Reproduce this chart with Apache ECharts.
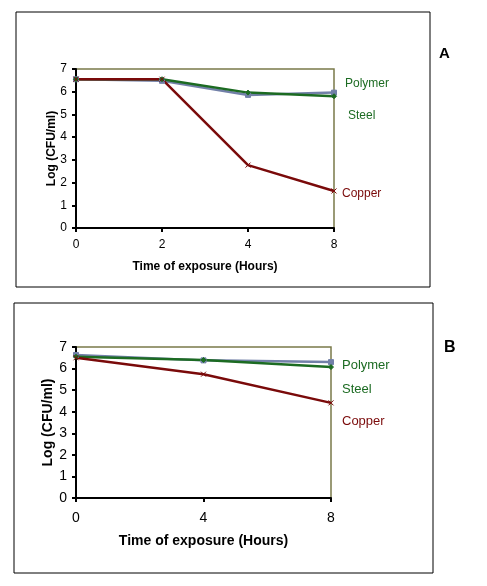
<!DOCTYPE html>
<html>
<head>
<meta charset="utf-8">
<script src="https://cdn.jsdelivr.net/npm/echarts@6/dist/echarts.min.js"></script>
<style>
html,body{margin:0;padding:0;background:#fff;}
#c{width:487px;height:586px;}
</style>
</head>
<body>
<div id="c"></div>
<script>
// Panel A
const hoursA = ['0', '2', '4', '8'];
const polymerA = [6.55, 6.48, 5.86, 5.96];
const steelA = [6.55, 6.55, 5.96, 5.8];
const copperA = [6.55, 6.55, 2.77, 1.63];
// Panel B
const hoursB = ['0', '4', '8'];
const polymerB = [6.63, 6.38, 6.3];
const steelB = [6.55, 6.4, 6.07];
const copperB = [6.5, 5.74, 4.41];
const yTicks = [0, 7, 1]; // min, max, interval

const cPoly = '#7280a8', cSteel = '#1c6b22', cCopper = '#7a0a0a';
const frame = '#7a7a4a';
const font = 'Liberation Sans, Arial, sans-serif';
const xPath = 'path://M0,0L10,10M10,0L0,10';

function mkX(idx, cats, fs, margin, gap) {
  return {
    gridIndex: idx, type: 'category', data: cats, boundaryGap: false,
    axisLine: {show: true, onZero: false, lineStyle: {color: '#000', width: 2}},
    axisTick: {show: true, alignWithLabel: true, length: 4, lineStyle: {color: '#000', width: 2}},
    axisLabel: {color: '#000', fontSize: fs, fontFamily: font, margin: margin},
    splitLine: {show: false},
    name: 'Time of exposure (Hours)', nameLocation: 'middle', nameGap: gap, nameMoveOverlap: false,
    nameTextStyle: {color: '#000', fontWeight: 'bold', fontSize: fs, fontFamily: font}
  };
}
function mkY(idx, fs, gap) {
  return {
    gridIndex: idx, type: 'value', min: yTicks[0], max: yTicks[1], interval: yTicks[2],
    axisLine: {show: true, lineStyle: {color: '#000', width: 2}},
    axisTick: {show: true, length: 4, lineStyle: {color: '#000', width: 2}},
    axisLabel: {color: '#000', fontSize: fs, fontFamily: font, margin: 9},
    splitLine: {show: false},
    name: 'Log (CFU/ml)', nameLocation: 'middle', nameGap: gap, nameRotate: 90, nameMoveOverlap: false,
    nameTextStyle: {color: '#000', fontWeight: 'bold', fontSize: fs, fontFamily: font}
  };
}
function mkS(name, data, color, sym, idx, lbl) {
  return {
    name: name, type: 'line', data: data, xAxisIndex: idx, yAxisIndex: idx,
    symbol: sym, symbolSize: 5, showSymbol: true,
    lineStyle: {color: color, width: 2.5},
    itemStyle: {color: color, borderColor: color},
    z: 3,
    endLabel: {show: true, formatter: name, color: lbl.color, fontSize: lbl.fs,
      fontFamily: font, offset: lbl.offset},
    animation: false
  };
}

const chart = echarts.init(document.getElementById('c'), null, {renderer: 'canvas'});
chart.setOption({
  animation: false,
  backgroundColor: '#fff',
  grid: [
    {left: 76, top: 69, width: 258, height: 159, show: true, borderColor: frame, borderWidth: 1.5, backgroundColor: 'transparent'},
    {left: 76, top: 347, width: 255, height: 151, show: true, borderColor: frame, borderWidth: 1.5, backgroundColor: 'transparent'}
  ],
  xAxis: [mkX(0, hoursA, 12, 11, 33), mkX(1, hoursB, 14, 13, 36)],
  yAxis: [mkY(0, 12, 18), mkY(1, 14, 21)],
  series: [
    mkS('Polymer', polymerA, cPoly, 'rect', 0, {color: cSteel, fs: 12, offset: [3, -9]}),
    mkS('Steel', steelA, cSteel, 'diamond', 0, {color: cSteel, fs: 12, offset: [6, 19]}),
    mkS('Copper', copperA, cCopper, xPath, 0, {color: cCopper, fs: 12, offset: [0, 3]}),
    mkS('Polymer', polymerB, cPoly, 'rect', 1, {color: cSteel, fs: 13, offset: [3, 3]}),
    mkS('Steel', steelB, cSteel, 'diamond', 1, {color: cSteel, fs: 13, offset: [3, 22]}),
    mkS('Copper', copperB, cCopper, xPath, 1, {color: cCopper, fs: 13, offset: [3, 19]})
  ],
  graphic: [
    {type: 'rect', shape: {x: 16, y: 12, width: 414, height: 275}, style: {fill: 'none', stroke: '#000', lineWidth: 1}, silent: true},
    {type: 'rect', shape: {x: 14, y: 303, width: 419, height: 270}, style: {fill: 'none', stroke: '#000', lineWidth: 1}, silent: true},
    {type: 'text', left: 439, top: 46, style: {text: 'A', font: 'bold 15px ' + font, fill: '#000'}},
    {type: 'text', left: 444, top: 340, style: {text: 'B', font: 'bold 16px ' + font, fill: '#000'}}
  ]
});
</script>
</body>
</html>
